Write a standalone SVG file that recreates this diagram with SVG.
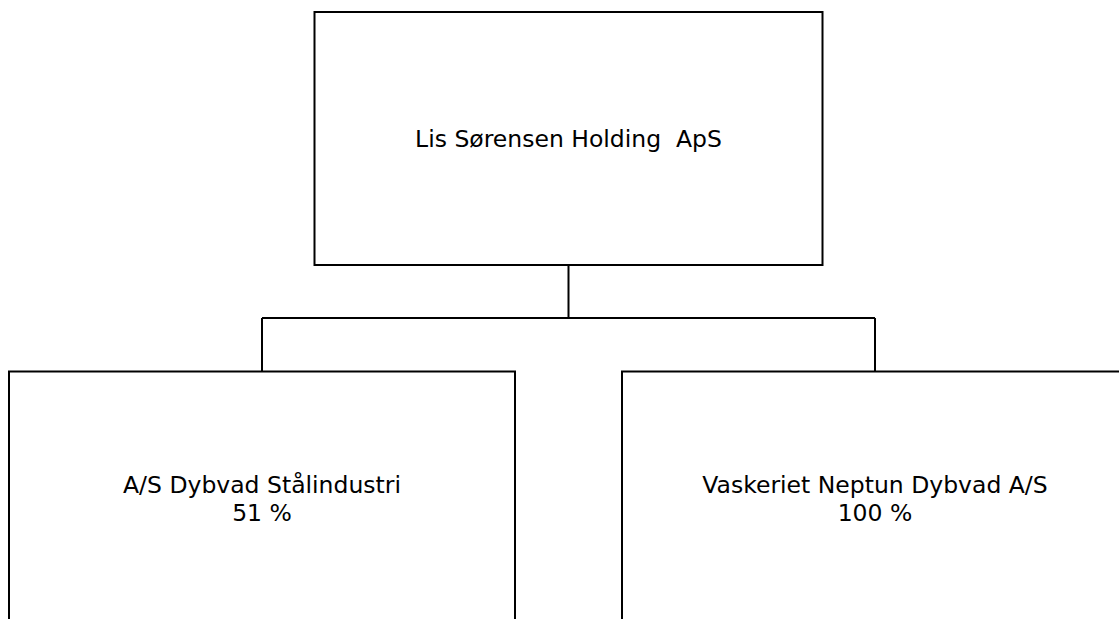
<svg xmlns="http://www.w3.org/2000/svg" width="1119" height="619" viewBox="0 0 1119 619">
<style>
.box{fill:#fff;stroke:#000;stroke-width:2}
.conn{fill:none;stroke:#000;stroke-width:2}
.lbl{font-family:"DejaVu Sans",Verdana,sans-serif;font-size:23.5px;fill:#000;text-anchor:middle;white-space:pre}
</style>
<rect width="1119" height="619" fill="#fff"/>
<g id="connectors">
<path class="conn" d="M568.5 265 V318 M262 318 H875 M262 318 V371.5 M875 318 V371.5"/>
</g>
<g id="holding">
<rect class="box" x="314.5" y="12" width="508" height="253"/>
<text class="lbl" x="568.5" y="147" xml:space="preserve">Lis Sørensen Holding  ApS</text>
</g>
<g id="staal">
<rect class="box" x="9" y="371.5" width="506" height="254"/>
<text class="lbl" x="262" y="493">A/S Dybvad Stålindustri</text>
<text class="lbl" x="262" y="521">51 %</text>
</g>
<g id="vaskeriet">
<rect class="box" x="622" y="371.5" width="506" height="254"/>
<text class="lbl" x="875" y="493">Vaskeriet Neptun Dybvad A/S</text>
<text class="lbl" x="875" y="521">100 %</text>
</g>
</svg>
